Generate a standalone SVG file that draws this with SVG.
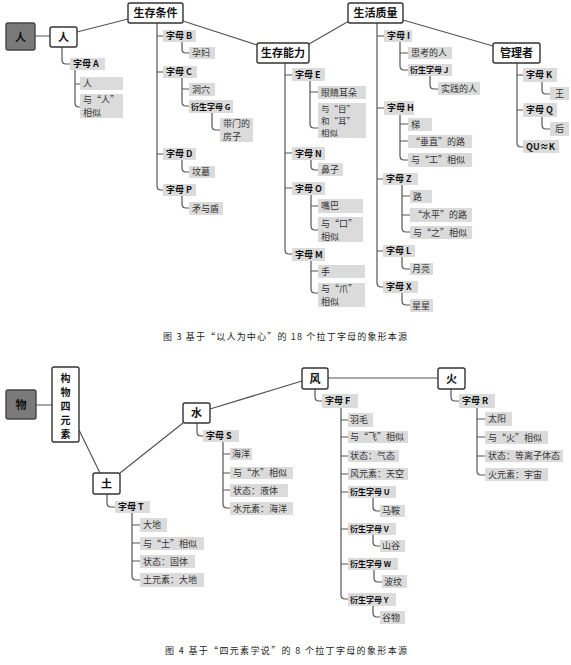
<svg xmlns="http://www.w3.org/2000/svg" width="571" height="665" viewBox="0 0 571 665">
<style>
.bg{fill:#fff}
.lb{fill:#dbdbdb}
.t{font-family:"Noto Sans CJK SC","Noto Sans",sans-serif;font-size:9px;fill:#333}
.s{font-size:8px}
.m3{font-size:8.5px}
.b{font-weight:bold;fill:#111}
.hb{font-family:"Noto Sans CJK SC","Noto Sans",sans-serif;font-size:11px;font-weight:bold;fill:#111;text-anchor:middle}
.vt{font-size:10px}
.box{fill:#fff;stroke:#333;stroke-width:1.4}
.root{fill:#7a7a7a;stroke:#444;stroke-width:1.4}
.ln{fill:none;stroke:#555;stroke-width:1.2}
.cap{font-family:"Noto Sans CJK SC","Noto Sans",sans-serif;font-size:9px;fill:#222}
</style>
<rect class="bg" width="571" height="665"/>
<g id="connectors">
<path class="ln" d="M35,36 H50 M77,32 L128,19 M183,21 L257,45 M309,44 L349,21 M403,20 L493,46"/>
<path class="ln" d="M62,47 V60 Q62,64 66,64 H70 M75,70 V103 Q75,107 79,107 H80 M75,84 H80"/>
<path class="ln" d="M157,23 V186 Q157,190 161,190 H163 M157,36 H163 M157,72 H163 M157,154 H163"/>
<path class="ln" d="M182,42 V49 Q182,53 186,53 H189 M182,78 V102 Q182,106 186,106 H189 M182,89 H189 M212,113 V126 Q212,130 216,130 H220 M182,160 V168 Q182,172 186,172 H189 M182,196 V204 Q182,208 186,208 H189"/>
<path class="ln" d="M285,63 V250 Q285,254 289,254 H292 M285,75 H292 M285,153 H292 M285,188 H292"/>
<path class="ln" d="M310,81 V124 Q310,128 314,128 H318 M310,92 H318 M311,160 V166 Q311,170 315,170 H318 M311,195 V226 Q311,230 315,230 H318 M311,206 H318 M311,261 V289 Q311,293 315,293 H318 M311,271 H318"/>
<path class="ln" d="M377,23 V283 Q377,287 381,287 H383 M377,36 H384 M377,108 H384 M377,179 H383 M377,251 H383"/>
<path class="ln" d="M400,42 V66 Q400,70 404,70 H408 M400,53 H408 M430,76 V85 Q430,89 434,89 H438 M400,115 V156 Q400,160 404,160 H408 M400,124 H408 M400,141 H408 M402,185 V228 Q402,232 406,232 H410 M402,196 H410 M402,215 H410 M402,257 V265 Q402,269 406,269 H410 M402,293 V301 Q402,305 406,305 H410"/>
<path class="ln" d="M517,63 V143 Q517,147 521,147 H523 M517,75 H523 M517,110 H523 M542,82 V90 Q542,94 546,94 H550 M542,117 V125 Q542,129 546,129 H550"/>
<path class="ln" d="M36,405 H52 M79,430 L100,473 M120,473 L183,423 M210,409 L302,381 M328,378 H438"/>
<path class="ln" d="M107,494 V503 Q107,507 111,507 H115 M132,513 V576 Q132,580 136,580 H140 M132,525 H140 M132,543 H140 M132,561 H140"/>
<path class="ln" d="M197,423 V432 Q197,436 201,436 H203 M223,442 V504 Q223,508 227,508 H230 M223,454 H230 M223,473 H230 M223,490 H230"/>
<path class="ln" d="M315,389 V397 Q315,401 319,401 H322 M341,408 V595 Q341,599 345,599 H348 M341,420 H348 M341,437 H348 M341,456 H348 M341,474 H348 M341,492 H348 M341,529 H348 M341,564 H348"/>
<path class="ln" d="M373,498 V507 Q373,511 377,511 H380 M373,535 V542 Q373,546 377,546 H380 M374,570 V578 Q374,582 378,582 H382 M373,606 V613 Q373,617 377,617 H380"/>
<path class="ln" d="M451,389 V397 Q451,401 455,401 H459 M477,408 V471 Q477,475 481,475 H485 M477,419 H485 M477,437 H485 M477,456 H485"/>
</g>
<!-- Figure 3 -->
<g id="root-ren"><rect class="root" x="6" y="23" width="29" height="27" rx="2"/><text class="hb" x="20.5" y="41">人</text></g>
<g id="ren"><rect class="box" x="50" y="27" width="27" height="20" rx="2"/><text class="hb" x="63.5" y="41">人</text></g>
<g id="shengcun-tiaojian"><rect class="box" x="128" y="3" width="55" height="20" rx="2"/><text class="hb" x="155.5" y="17">生存条件</text></g>
<g id="shengcun-nengli"><rect class="box" x="257" y="43" width="52" height="20" rx="2"/><text class="hb" x="283" y="57">生存能力</text></g>
<g id="shenghuo-zhiliang"><rect class="box" x="348" y="3" width="55" height="20" rx="2"/><text class="hb" x="375.5" y="17">生活质量</text></g>
<g id="guanlizhe"><rect class="box" x="493" y="43" width="47" height="20" rx="2"/><text class="hb" x="516.5" y="57">管理者</text></g>

<g id="A"><rect class="lb" x="70" y="58" width="35" height="12"/><text class="t b" x="73" y="67">字母 A</text></g>
<g id="A1"><rect class="lb" x="80" y="77" width="43" height="13"/><text class="t" x="83" y="87">人</text></g>
<g id="A2"><rect class="lb" x="80" y="94" width="43" height="24"/><text class="t" x="83" y="103">与“人”<tspan x="83" dy="13">相似</tspan></text></g>

<g id="B"><rect class="lb" x="163" y="30" width="33" height="12"/><text class="t b" x="166" y="39">字母 B</text></g>
<g id="B1"><rect class="lb" x="189" y="47" width="26" height="12"/><text class="t" x="192" y="56">孕妇</text></g>
<g id="C"><rect class="lb" x="163" y="66" width="34" height="12"/><text class="t b" x="166" y="75">字母 C</text></g>
<g id="C1"><rect class="lb" x="189" y="83" width="26" height="13"/><text class="t" x="192" y="93">洞穴</text></g>
<g id="G"><rect class="lb" x="189" y="100" width="44" height="13"/><text class="t s b" x="191" y="109.5">衍生字母 G</text></g>
<g id="G1"><rect class="lb" x="220" y="118" width="33" height="24"/><text class="t" x="223" y="127">带门的<tspan x="223" dy="13">房子</tspan></text></g>
<g id="D"><rect class="lb" x="163" y="148" width="33" height="12"/><text class="t b" x="166" y="157">字母 D</text></g>
<g id="D1"><rect class="lb" x="189" y="166" width="26" height="12"/><text class="t" x="192" y="175">坟墓</text></g>
<g id="P"><rect class="lb" x="163" y="184" width="33" height="12"/><text class="t b" x="166" y="193">字母 P</text></g>
<g id="P1"><rect class="lb" x="189" y="202" width="34" height="13"/><text class="t" x="192" y="212">矛与盾</text></g>

<g id="E"><rect class="lb" x="292" y="68" width="33" height="13"/><text class="t b" x="295" y="78">字母 E</text></g>
<g id="E1"><rect class="lb" x="318" y="86" width="48" height="13"/><text class="t" x="321" y="96">眼睛耳朵</text></g>
<g id="E2"><rect class="lb" x="318" y="103" width="48" height="35"/><text class="t m3" x="321" y="111.5">与“目”<tspan x="321" dy="12.4">和“耳”</tspan><tspan x="321" dy="12.4">相似</tspan></text></g>
<g id="N"><rect class="lb" x="292" y="147" width="33" height="13"/><text class="t b" x="295" y="157">字母 N</text></g>
<g id="N1"><rect class="lb" x="318" y="163" width="25" height="13"/><text class="t" x="321" y="173">鼻子</text></g>
<g id="O"><rect class="lb" x="292" y="182" width="33" height="13"/><text class="t b" x="295" y="192">字母 O</text></g>
<g id="O1"><rect class="lb" x="318" y="199" width="45" height="14"/><text class="t" x="321" y="209">嘴巴</text></g>
<g id="O2"><rect class="lb" x="318" y="217" width="45" height="25"/><text class="t" x="321" y="226.5">与“口”<tspan x="321" dy="13">相似</tspan></text></g>
<g id="M"><rect class="lb" x="292" y="248" width="33" height="13"/><text class="t b" x="295" y="258">字母 M</text></g>
<g id="M1"><rect class="lb" x="318" y="265" width="47" height="13"/><text class="t" x="321" y="275">手</text></g>
<g id="M2"><rect class="lb" x="318" y="283" width="47" height="24"/><text class="t" x="321" y="292">与“爪”<tspan x="321" dy="13">相似</tspan></text></g>

<g id="I"><rect class="lb" x="384" y="30" width="28" height="12"/><text class="t b" x="387" y="39">字母 I</text></g>
<g id="I1"><rect class="lb" x="408" y="47" width="44" height="12"/><text class="t" x="411" y="56">思考的人</text></g>
<g id="J"><rect class="lb" x="408" y="64" width="44" height="12"/><text class="t s b" x="410" y="73">衍生字母 J</text></g>
<g id="J1"><rect class="lb" x="438" y="82" width="42" height="13"/><text class="t" x="441" y="92">实践的人</text></g>
<g id="H"><rect class="lb" x="384" y="101" width="30" height="14"/><text class="t b" x="387" y="111">字母 H</text></g>
<g id="H1"><rect class="lb" x="408" y="118" width="24" height="13"/><text class="t" x="411" y="128">梯</text></g>
<g id="H2"><rect class="lb" x="408" y="135" width="64" height="13"/><text class="t" x="411" y="145">“垂直”的路</text></g>
<g id="H3"><rect class="lb" x="408" y="153" width="64" height="14"/><text class="t" x="411" y="163">与“工”相似</text></g>
<g id="Z"><rect class="lb" x="383" y="173" width="35" height="12"/><text class="t b" x="386" y="182">字母 Z</text></g>
<g id="Z1"><rect class="lb" x="410" y="190" width="22" height="13"/><text class="t" x="413" y="200">路</text></g>
<g id="Z2"><rect class="lb" x="410" y="208" width="62" height="14"/><text class="t" x="413" y="218">“水平”的路</text></g>
<g id="Z3"><rect class="lb" x="410" y="226" width="62" height="13"/><text class="t" x="413" y="236">与“之”相似</text></g>
<g id="L"><rect class="lb" x="383" y="245" width="32" height="12"/><text class="t b" x="386" y="254">字母 L</text></g>
<g id="L1"><rect class="lb" x="410" y="263" width="23" height="12"/><text class="t" x="412" y="272">月亮</text></g>
<g id="X"><rect class="lb" x="383" y="281" width="35" height="12"/><text class="t b" x="386" y="290">字母 X</text></g>
<g id="X1"><rect class="lb" x="410" y="299" width="23" height="13"/><text class="t" x="412" y="309">星星</text></g>

<g id="K"><rect class="lb" x="523" y="68" width="34" height="14"/><text class="t b" x="526" y="78">字母 K</text></g>
<g id="K1"><rect class="lb" x="550" y="87" width="19" height="13"/><text class="t" x="555" y="97">王</text></g>
<g id="Q"><rect class="lb" x="523" y="103" width="34" height="14"/><text class="t b" x="526" y="113">字母 Q</text></g>
<g id="Q1"><rect class="lb" x="550" y="122" width="19" height="14"/><text class="t" x="555" y="132">后</text></g>
<g id="QU"><rect class="lb" x="523" y="140" width="36" height="13"/><text class="t b" x="526" y="150">QU≈K</text></g>

<text class="cap" x="163" y="340" textLength="244" lengthAdjust="spacing">图 3  基于“以人为中心”的 18 个拉丁字母的象形本源</text>

<!-- Figure 4 -->
<g id="root-wu"><rect class="root" x="6" y="390" width="30" height="29" rx="2"/><text class="hb" x="21" y="409">物</text></g>
<g id="gouwu"><rect class="box" x="52" y="367" width="27" height="75" rx="2"/><text class="hb vt" x="65.5" y="381.5">构<tspan x="65.5" dy="14">物</tspan><tspan x="65.5" dy="14">四</tspan><tspan x="65.5" dy="14">元</tspan><tspan x="65.5" dy="14">素</tspan></text></g>
<g id="tu"><rect class="box" x="93" y="473" width="27" height="21" rx="2"/><text class="hb" x="106.5" y="488">土</text></g>
<g id="shui"><rect class="box" x="183" y="403" width="27" height="20" rx="2"/><text class="hb" x="196.5" y="417">水</text></g>
<g id="feng"><rect class="box" x="302" y="368" width="26" height="21" rx="2"/><text class="hb" x="315" y="383">风</text></g>
<g id="huo"><rect class="box" x="438" y="368" width="27" height="21" rx="2"/><text class="hb" x="451.5" y="383">火</text></g>

<g id="T"><rect class="lb" x="115" y="501" width="35" height="12"/><text class="t b" x="118" y="510">字母 T</text></g>
<g id="T1"><rect class="lb" x="140" y="518" width="27" height="14"/><text class="t" x="143" y="528">大地</text></g>
<g id="T2"><rect class="lb" x="140" y="537" width="64" height="13"/><text class="t" x="143" y="547">与“土”相似</text></g>
<g id="T3"><rect class="lb" x="140" y="555" width="55" height="13"/><text class="t" x="143" y="565">状态：固体</text></g>
<g id="T4"><rect class="lb" x="140" y="573" width="64" height="14"/><text class="t" x="143" y="583">土元素：大地</text></g>

<g id="S"><rect class="lb" x="203" y="430" width="36" height="12"/><text class="t b" x="206" y="439">字母 S</text></g>
<g id="S1"><rect class="lb" x="230" y="448" width="22" height="12"/><text class="t" x="232" y="457">海洋</text></g>
<g id="S2"><rect class="lb" x="230" y="467" width="63" height="12"/><text class="t" x="233" y="476">与“水”相似</text></g>
<g id="S3"><rect class="lb" x="230" y="484" width="58" height="13"/><text class="t" x="233" y="494">状态：液体</text></g>
<g id="S4"><rect class="lb" x="230" y="502" width="63" height="13"/><text class="t" x="233" y="512">水元素：海洋</text></g>

<g id="F"><rect class="lb" x="322" y="394" width="36" height="14"/><text class="t b" x="325" y="404">字母 F</text></g>
<g id="F1"><rect class="lb" x="348" y="413" width="25" height="14"/><text class="t" x="350" y="423">羽毛</text></g>
<g id="F2"><rect class="lb" x="348" y="431" width="60" height="12"/><text class="t" x="350" y="440">与“飞”相似</text></g>
<g id="F3"><rect class="lb" x="348" y="450" width="51" height="12"/><text class="t" x="350" y="459">状态：气态</text></g>
<g id="F4"><rect class="lb" x="348" y="468" width="60" height="12"/><text class="t" x="350" y="477">风元素：天空</text></g>
<g id="U"><rect class="lb" x="348" y="486" width="48" height="12"/><text class="t s b" x="350" y="495">衍生字母 U</text></g>
<g id="U1"><rect class="lb" x="380" y="505" width="25" height="12"/><text class="t" x="382" y="514">马鞍</text></g>
<g id="V"><rect class="lb" x="348" y="523" width="48" height="12"/><text class="t s b" x="350" y="532">衍生字母 V</text></g>
<g id="V1"><rect class="lb" x="380" y="540" width="25" height="12"/><text class="t" x="382" y="549">山谷</text></g>
<g id="W"><rect class="lb" x="348" y="558" width="50" height="12"/><text class="t s b" x="350" y="567">衍生字母 W</text></g>
<g id="W1"><rect class="lb" x="382" y="575" width="25" height="13"/><text class="t" x="384" y="585">波纹</text></g>
<g id="Y"><rect class="lb" x="348" y="593" width="48" height="13"/><text class="t s b" x="350" y="602.5">衍生字母 Y</text></g>
<g id="Y1"><rect class="lb" x="380" y="611" width="25" height="13"/><text class="t" x="382" y="621">谷物</text></g>

<g id="R"><rect class="lb" x="459" y="394" width="36" height="14"/><text class="t b" x="462" y="404">字母 R</text></g>
<g id="R1"><rect class="lb" x="485" y="412" width="27" height="14"/><text class="t" x="488" y="422">太阳</text></g>
<g id="R2"><rect class="lb" x="485" y="431" width="63" height="13"/><text class="t" x="488" y="441">与“火”相似</text></g>
<g id="R3"><rect class="lb" x="485" y="450" width="78" height="12"/><text class="t" x="488" y="459">状态：等离子体态</text></g>
<g id="R4"><rect class="lb" x="485" y="468" width="63" height="13"/><text class="t" x="488" y="478">火元素：宇宙</text></g>

<text class="cap" x="165" y="654" textLength="242" lengthAdjust="spacing">图 4  基于“四元素学说”的 8 个拉丁字母的象形本源</text>
</svg>
